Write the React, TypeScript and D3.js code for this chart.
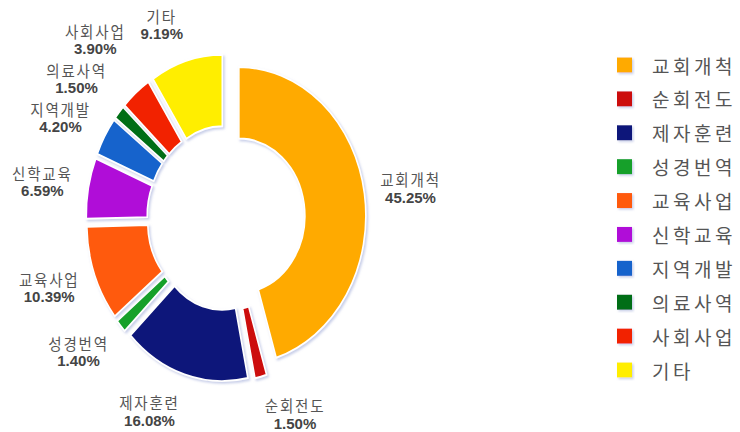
import React from 'react';
import * as d3 from 'd3';

const categories = ['교회개척', '순회전도', '제자훈련', '성경번역', '교육사업', '신학교육', '지역개발', '의료사역', '사회사업', '기타'];
const values = [45.25, 1.5, 16.08, 1.4, 10.39, 6.59, 4.2, 1.5, 3.9, 9.19];
const valueLabels = ['45.25%', '1.50%', '16.08%', '1.40%', '10.39%', '6.59%', '4.20%', '1.50%', '3.90%', '9.19%'];
const colors = ['#FFAA00', '#CC0A0A', '#10197A', '#12A02A', '#FF5A0A', '#B00ED8', '#1464CC', '#006E12', '#F22200', '#FFEE00'];

const W = 740;
const H = 432;
const cx = 226;
const cy = 218;
const outerR = 127;
const innerR = 66;
const yStretch = 1.17;
const explode = 13;
const labelRx = 156;
const labelRy = 202;
const labelMinGap = 39;

const nameFont = "'Noto Sans CJK KR', 'Noto Sans', sans-serif";
const pctFont = "'Liberation Sans', Arial, 'Noto Sans CJK KR', sans-serif";

export default function App() {
  const pie = d3.pie<number>().sort(null).value((d) => d).startAngle(0).endAngle(Math.PI * 2);
  const arcs = pie(values);
  const arc = d3.arc<d3.PieArcDatum<number>>().innerRadius(innerR).outerRadius(outerR);

  const legendY = d3.scalePoint<string>().domain(categories).range([65, 370]);

  type Lab = { i: number; x: number; y: number; w: number; side: number; ang: number };
  const labs: Lab[] = arcs.map((a, i) => {
    const ang = (a.startAngle + a.endAngle) / 2;
    const sx = Math.sin(ang);
    const sy = -Math.cos(ang);
    const nameW = categories[i].length * 14 + (categories[i].length - 1) * 1.5;
    const pctW = (valueLabels[i].length - 2) * 7.8 + 3.9 + 12.4;
    const w = Math.max(nameW, pctW);
    const side = sx >= 0 ? 1 : -1;
    return { i, x: cx + labelRx * sx + side * w / 2, y: cy + labelRy * sy, w, side, ang };
  });
  const left = labs.filter((l) => l.side < 0).sort((a, b) => a.ang - b.ang);
  for (let k = 1; k < left.length; k++) {
    for (let j = 0; j < k; j++) {
      const a = left[k];
      const b = left[j];
      const xOverlap = Math.abs(a.x - b.x) < (a.w + b.w) / 2;
      if (xOverlap && a.y > b.y - labelMinGap) a.y = b.y - labelMinGap;
    }
  }

  return (
    <svg width={W} height={H} style={{ position: 'absolute', left: 0, top: 0, background: '#fff' }}>
      <defs>
        <filter id="sh" x="-20%" y="-20%" width="140%" height="140%">
          <feDropShadow dx="1.5" dy="1.5" stdDeviation="0.8" floodColor="#9aa6d6" floodOpacity="0.55" />
        </filter>
      </defs>
      <g transform={`translate(${cx},${cy}) scale(1,${yStretch})`}>
        {arcs.map((a, i) => {
          const ang = (a.startAngle + a.endAngle) / 2;
          const dx = explode * Math.sin(ang);
          const dy = -explode * Math.cos(ang);
          return (
            <path
              key={i}
              d={arc(a) || ''}
              transform={`translate(${dx},${dy})`}
              fill={colors[i]}
              stroke="#ffffff"
              strokeWidth={1.6}
              filter="url(#sh)"
            />
          );
        })}
      </g>
      {labs.map((l) => (
        <g key={l.i}>
          <text
            x={l.x}
            y={l.y - 9}
            textAnchor="middle"
            dominantBaseline="central"
            fontFamily={nameFont}
            fontSize={14.5}
            letterSpacing={1.8}
            fill="#555"
            transform={`translate(0,${l.y - 9}) scale(1,1.1) translate(0,${-(l.y - 9)})`}
          >
            {categories[l.i]}
          </text>
          <text
            x={l.x}
            y={l.y + 9.5}
            textAnchor="middle"
            dominantBaseline="central"
            fontFamily={pctFont}
            fontSize={15}
            fontWeight="bold"
            fill="#444"
          >
            {valueLabels[l.i]}
          </text>
        </g>
      ))}
      {categories.map((c, i) => {
        const y = legendY(c) as number;
        return (
          <g key={c}>
            <rect x={617} y={y - 7.5} width={15} height={15} fill={colors[i]} filter="url(#sh)" />
            <text
              x={652}
              y={y}
              dominantBaseline="central"
              fontFamily={nameFont}
              fontSize={19}
              letterSpacing={3.5}
              fill="#555"
            >
              {c}
            </text>
          </g>
        );
      })}
    </svg>
  );
}
